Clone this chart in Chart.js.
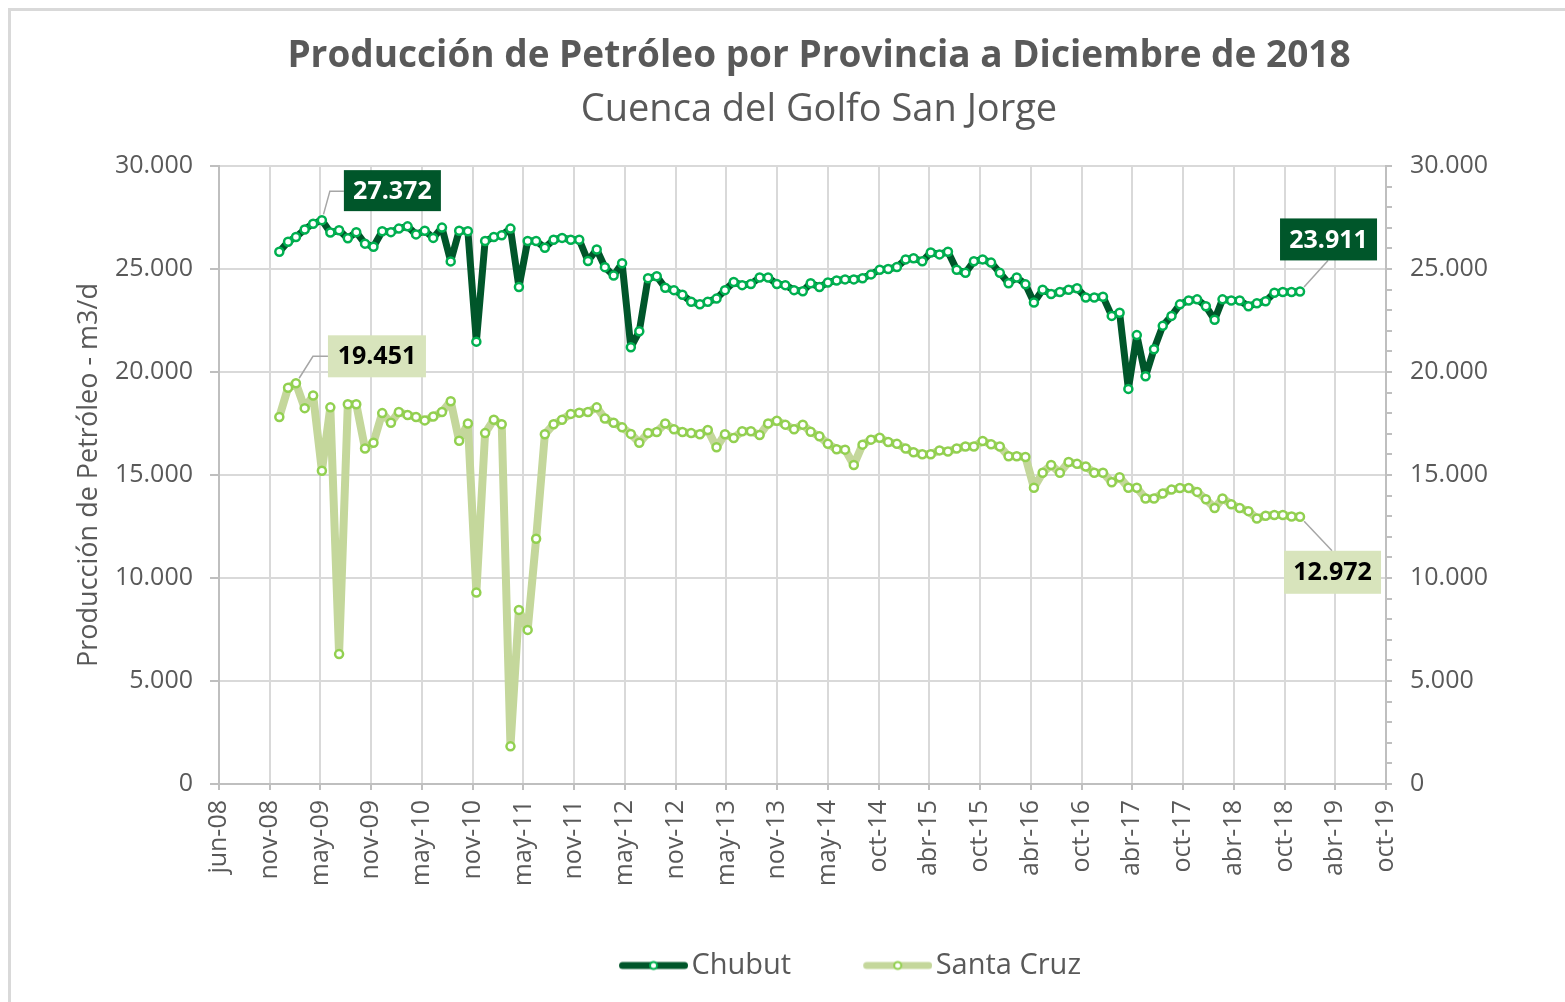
<!DOCTYPE html>
<html lang="es">
<head>
<meta charset="utf-8">
<title>Producción de Petróleo por Provincia</title>
<script src="https://cdn.jsdelivr.net/npm/chart.js@4.4.1/dist/chart.umd.min.js"></script>
<style>
  html, body { margin: 0; padding: 0; background: #fff; overflow: hidden; }
  #frame {
    position: absolute; left: 8px; top: 8px; width: 1600px; height: 1100px;
    border-left: 3px solid #d9d9d9; border-top: 3px solid #d9d9d9;
  }
  #chart { position: absolute; left: 0; top: 0; }
</style>
</head>
<body>
<div id="frame"></div>
<canvas id="chart" width="1565" height="1002"></canvas>
<script>
// Monthly oil production in m3/d, from January 2009 to December 2018
const firstYear = 2009;

const chubut = [
    25840, 26325, 26550, 26920, 27200, 27372, 26770, 26880, 26490, 26790, 26230, 26080,
    26830, 26790, 26960, 27070, 26680, 26860, 26510, 27010, 25370, 26860, 26830, 21474,
    26360, 26550, 26640, 26960, 24123, 26360, 26360, 26030, 26420, 26510, 26420, 26420,
    25390, 25950, 25090, 24680, 25280, 21200, 21978, 24552, 24646, 24086, 23974, 23750,
    23414, 23284, 23414, 23563, 23974, 24366, 24216, 24272, 24590, 24590, 24272, 24216,
    23974, 23920, 24310, 24123, 24347, 24440, 24496, 24496, 24552, 24739, 24963, 25000,
    25093, 25466, 25522, 25373, 25800, 25709, 25840, 24963, 24813, 25373, 25466, 25310,
    24813, 24310, 24590, 24254, 23377, 23993, 23787, 23881, 23993, 24067, 23619, 23619,
    23657, 22724, 22873, 19179, 21791, 19795, 21101, 22240, 22724, 23284, 23470, 23526,
    23190, 22537, 23526, 23470, 23470, 23190, 23340, 23433, 23843, 23881, 23881, 23911
];

const santaCruz = [
    17817, 19235, 19451, 18246, 18862, 15205, 18284, 6306, 18433, 18433, 16287, 16567,
    18004, 17537, 18060, 17910, 17817, 17650, 17836, 18060, 18582, 16660, 17500, 9291,
    17033, 17686, 17463, 1828, 8451, 7481, 11903, 16978, 17463, 17686, 17966, 18022,
    18060, 18284, 17743, 17537, 17313, 16996, 16567, 17033, 17090, 17500, 17220, 17090,
    17033, 16978, 17183, 16343, 16978, 16791, 17127, 17127, 16940, 17500, 17630, 17444,
    17220, 17444, 17100, 16884, 16511, 16250, 16231, 15485, 16474, 16716, 16810, 16604,
    16511, 16287, 16101, 16007, 16007, 16194, 16138, 16287, 16380, 16380, 16650, 16490,
    16380, 15914, 15914, 15877, 14384, 15112, 15485, 15112, 15634, 15541, 15410, 15112,
    15112, 14646, 14888, 14384, 14384, 13862, 13862, 14104, 14291, 14366, 14366, 14179,
    13825, 13396, 13862, 13582, 13396, 13246, 12892, 13022, 13060, 13060, 12985, 12972
];

// Date axis: starts 1 Jun 2008, one tick every 180 days
const tickLabels = [
    'jun-08', 'nov-08', 'may-09', 'nov-09', 'may-10', 'nov-10', 'may-11', 'nov-11',
    'may-12', 'nov-12', 'may-13', 'nov-13', 'may-14', 'oct-14', 'abr-15', 'oct-15',
    'abr-16', 'oct-16', 'abr-17', 'oct-17', 'abr-18', 'oct-18', 'abr-19', 'oct-19'
];
const axisStart = Date.UTC(2008, 5, 1);
const tickDays = 180;
const dayMs = 86400000;

const FONT = '"Open Sans", sans-serif';
const GREY_TEXT = '#595959';
const GRID = '#d9d9d9';
const AXIS = '#bfbfbf';

const CHUBUT_LINE = '#00562a';
const CHUBUT_MARK = '#00b050';
const SC_LINE = '#c4d79b';
const SC_MARK = '#92d050';

// x of each month = days since the start of the axis
const monthDays = chubut.map((v, i) => (Date.UTC(firstYear, i, 1) - axisStart) / dayMs);

function toPoints(values) {
    return values.map((v, i) => ({ x: monthDays[i], y: v }));
}

function formatNumber(n) {
    return String(Math.round(n)).replace(/\B(?=(\d{3})+(?!\d))/g, '.');
}

// Boxed value labels with grey leader lines
// box = [dx, dy, width, height] from the point, leader = bends from the point
const callouts = [
    { dataset: 0, index: 5, fill: CHUBUT_LINE, color: '#ffffff', box: [22, -50, 97, 41], leader: [[8, -29], [22, -29]] },
    { dataset: 1, index: 2, fill: '#d8e4bc', color: '#000000', box: [32, -48, 98, 42], leader: [[17, -27], [32, -27]] },
    { dataset: 0, index: 119, fill: CHUBUT_LINE, color: '#ffffff', box: [-20, -73, 97, 42], leader: [[28, -31]] },
    { dataset: 1, index: 119, fill: '#d8e4bc', color: '#000000', box: [-16, 34, 97, 43], leader: [[32, 34]] }
];

const calloutPlugin = {
    id: 'callouts',
    afterDatasetsDraw(chart) {
        const ctx = chart.ctx;
        ctx.save();
        callouts.forEach(c => {
            const pt = chart.getDatasetMeta(c.dataset).data[c.index];
            const value = chart.data.datasets[c.dataset].data[c.index].y;

            // leader starts at the edge of the marker
            const first = c.leader[0];
            const len = Math.hypot(first[0], first[1]);
            ctx.strokeStyle = '#a6a6a6';
            ctx.lineWidth = 1.5;
            ctx.beginPath();
            ctx.moveTo(pt.x + first[0] / len * 6, pt.y + first[1] / len * 6);
            c.leader.forEach(p => ctx.lineTo(pt.x + p[0], pt.y + p[1]));
            ctx.stroke();

            const [dx, dy, w, h] = c.box;
            ctx.fillStyle = c.fill;
            ctx.fillRect(pt.x + dx, pt.y + dy, w, h);
            ctx.fillStyle = c.color;
            ctx.font = 'bold 25px ' + FONT;
            ctx.textAlign = 'center';
            ctx.textBaseline = 'middle';
            ctx.fillText(formatNumber(value), pt.x + dx + w / 2, pt.y + dy + h / 2 + 1);
        });
        ctx.restore();
    }
};

// Legend symbol: thick line with a marker, drawn at the right end of its box
const LEGEND_BOX = 120;
function legendSymbol(lineColor, markColor) {
    const c = document.createElement('canvas');
    c.width = LEGEND_BOX + 22;
    c.height = 16;
    const g = c.getContext('2d');
    const x1 = c.width - 65.5;
    const x2 = c.width - 3.5;
    g.strokeStyle = lineColor;
    g.lineWidth = 7;
    g.lineCap = 'round';
    g.beginPath();
    g.moveTo(x1, 8);
    g.lineTo(x2, 8);
    g.stroke();
    g.beginPath();
    g.arc((x1 + x2) / 2, 8, 3.5, 0, Math.PI * 2);
    g.fillStyle = '#ffffff';
    g.fill();
    g.strokeStyle = markColor;
    g.lineWidth = 2;
    g.stroke();
    return c;
}
const legendSymbols = [legendSymbol(CHUBUT_LINE, CHUBUT_MARK), legendSymbol(SC_LINE, SC_MARK)];

function lineDataset(label, values, lineColor, markColor, width) {
    return {
        label: label,
        data: toPoints(values),
        borderColor: lineColor,
        backgroundColor: lineColor,
        borderWidth: width,
        borderJoinStyle: 'round',
        borderCapStyle: 'round',
        tension: 0,
        pointRadius: 4,
        pointBorderWidth: 2.5,
        pointBorderColor: markColor,
        pointBackgroundColor: '#ffffff'
    };
}

new Chart(document.getElementById('chart'), {
    type: 'line',
    data: {
        datasets: [
            lineDataset('Chubut', chubut, CHUBUT_LINE, CHUBUT_MARK, 7),
            lineDataset('Santa Cruz', santaCruz, SC_LINE, SC_MARK, 8)
        ]
    },
    options: {
        responsive: false,
        animation: false,
        layout: { padding: { left: 73, right: 0, top: 0, bottom: 12 } },
        plugins: {
            title: {
                display: true,
                text: 'Producción de Petróleo por Provincia a Diciembre de 2018',
                color: GREY_TEXT,
                font: { family: FONT, size: 37, weight: 'bold' },
                padding: { top: 34, bottom: 9 }
            },
            subtitle: {
                display: true,
                text: 'Cuenca del Golfo San Jorge',
                color: GREY_TEXT,
                font: { family: FONT, size: 38 },
                padding: { top: 0, bottom: 33 }
            },
            legend: {
                position: 'bottom',
                labels: {
                    color: GREY_TEXT,
                    font: { family: FONT, size: 29 },
                    usePointStyle: true,
                    pointStyleWidth: LEGEND_BOX,
                    padding: 10,
                    generateLabels(chart) {
                        const items = Chart.defaults.plugins.legend.labels.generateLabels(chart);
                        items.forEach((item, i) => { item.pointStyle = legendSymbols[i]; });
                        return items;
                    }
                }
            },
            tooltip: { enabled: false }
        },
        scales: {
            x: {
                type: 'linear',
                min: 0,
                max: tickDays * (tickLabels.length - 1),
                afterBuildTicks(scale) {
                    scale.ticks = tickLabels.map((t, i) => ({ value: i * tickDays }));
                },
                afterFit(scale) { scale.height = 157; },
                grid: { color: GRID, lineWidth: 2, tickLength: 6, tickColor: AXIS },
                border: { color: AXIS, width: 2 },
                ticks: {
                    autoSkip: false,
                    minRotation: 90,
                    maxRotation: 90,
                    padding: 10,
                    color: GREY_TEXT,
                    font: { family: FONT, size: 25 },
                    callback: (value, index) => tickLabels[index]
                }
            },
            y: {
                position: 'left',
                min: 0,
                max: 30000,
                afterFit(scale) { scale.width = 146; },
                grid: { color: GRID, lineWidth: 2, tickLength: 9, tickColor: AXIS },
                border: { color: AXIS, width: 2 },
                ticks: {
                    stepSize: 5000,
                    padding: 17,
                    color: GREY_TEXT,
                    font: { family: FONT, size: 25 },
                    callback: value => formatNumber(value)
                },
                title: {
                    display: true,
                    text: 'Producción de Petróleo - m3/d',
                    color: GREY_TEXT,
                    font: { family: FONT, size: 27 },
                    padding: { top: 0, bottom: 0 }
                }
            },
            y1: {
                position: 'right',
                min: 0,
                max: 30000,
                afterBuildTicks(scale) {
                    const ticks = [];
                    for (let v = 0; v <= 30000; v += 1000) ticks.push({ value: v });
                    scale.ticks = ticks;
                },
                afterFit(scale) { scale.width = 179; },
                grid: { drawOnChartArea: false, tickLength: 6, tickColor: AXIS, lineWidth: 2 },
                border: { color: AXIS, width: 2 },
                ticks: {
                    autoSkip: false,
                    padding: 18,
                    color: GREY_TEXT,
                    font: { family: FONT, size: 25 },
                    callback: value => (value % 5000 === 0 ? formatNumber(value) : '')
                }
            }
        }
    },
    plugins: [calloutPlugin]
});
</script>
</body>
</html>
